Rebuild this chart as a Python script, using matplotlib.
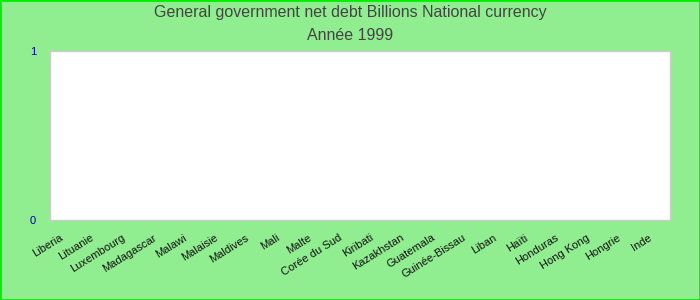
import matplotlib.pyplot as plt
import matplotlib.patches as mpatches
import matplotlib.transforms as mtransforms
import numpy as np

plt.rcParams['font.family'] = ['Liberation Sans', 'DejaVu Sans']

countries = ["Liberia", "Lituanie", "Luxembourg", "Madagascar", "Malawi",
             "Malaisie", "Maldives", "Mali", "Malte", "Corée du Sud",
             "Kiribati", "Kazakhstan", "Guatemala", "Guinée-Bissau", "Liban",
             "Haïti", "Honduras", "Hong Kong", "Hongrie", "Inde"]
# no data reported for 1999
values = [np.nan] * len(countries)
y_ticks = [0, 1]

fig = plt.figure(figsize=(7, 3), dpi=100, facecolor="#90EE90")
ax = fig.add_axes([50 / 700, 80 / 300, 620 / 700, 169 / 300])
ax.set_facecolor("white")

x = np.arange(len(countries))
ax.bar(x, values, color="#4572A7")
ax.set_xlim(-0.5, len(countries) - 0.5)
ax.set_ylim(0, 1)

ax.set_yticks(y_ticks)
ax.set_yticklabels([str(t) for t in y_ticks], color="#0000AA", fontsize=8)
ax.tick_params(axis="y", length=0, pad=10)
ax.set_xticks(x)
ax.set_xticklabels(countries, rotation=32, ha="right", va="top",
                   rotation_mode="anchor", fontsize=8, color="#111111")
ax.tick_params(axis="x", length=0, pad=9)
shift = mtransforms.ScaledTranslation(-6 / 100, 0, fig.dpi_scale_trans)
for lbl in ax.get_xticklabels():
    lbl.set_transform(lbl.get_transform() + shift)

for s in ax.spines.values():
    s.set_color("#CCCCCC")
    s.set_linewidth(1)

fig.text(0.5, 1 - 13 / 300, "General government net debt Billions National currency",
         ha="center", va="center", fontsize=11.5, color="#444444")
fig.text(0.5, 1 - 35 / 300, "Année 1999",
         ha="center", va="center", fontsize=11.5, color="#444444")

fig.patches.append(mpatches.Rectangle((0, 0), 1, 1, transform=fig.transFigure,
                                      fill=False, edgecolor="#00EE00", linewidth=2))

fig.savefig("out.png", dpi=100, facecolor=fig.get_facecolor())
plt.close(fig)
